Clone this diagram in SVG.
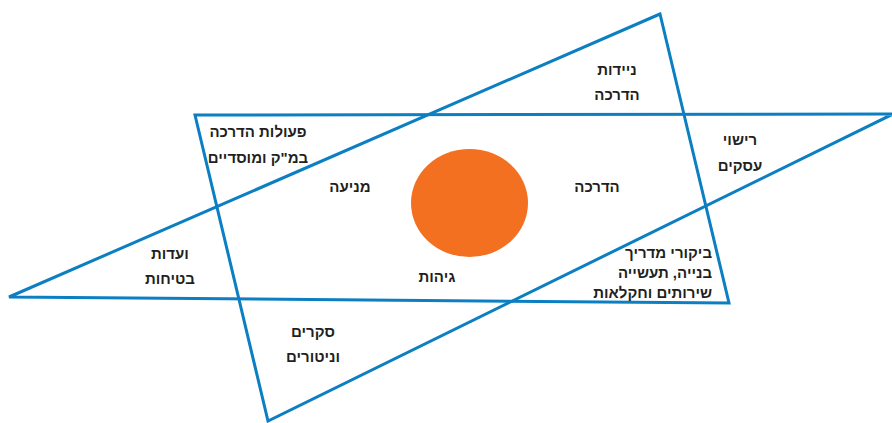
<svg xmlns="http://www.w3.org/2000/svg" width="892" height="423" viewBox="0 0 892 423">
<style>
.tri{fill:none;stroke:#0b7fc2;stroke-width:3;stroke-linejoin:miter}
.lbl{font-family:"Liberation Sans","DejaVu Sans",sans-serif;font-size:15px;font-weight:bold;fill:#231f20;text-anchor:middle}
.r{text-anchor:end}
</style>
<rect width="892" height="423" fill="#ffffff"/>
<g id="connectors">
<polygon id="triangle-up" class="tri" points="660,14 9,297 729,303"/>
<polygon id="triangle-down" class="tri" points="195,115 893,114 268,421"/>
</g>
<g id="center"><ellipse cx="469.5" cy="203" rx="58.5" ry="54" fill="#f37021"/></g>
<g id="n-peulot"><text class="lbl" x="258" y="137">פעולות הדרכה</text><text class="lbl" x="258" y="163">במ"ק ומוסדיים</text></g>
<g id="n-niyadut"><text class="lbl" x="617" y="75">ניידות</text><text class="lbl" x="617" y="100">הדרכה</text></g>
<g id="n-rishui"><text class="lbl" x="740" y="145">רישוי</text><text class="lbl" x="740" y="171">עסקים</text></g>
<g id="n-menia"><text class="lbl" x="350" y="192">מניעה</text></g>
<g id="n-hadracha"><text class="lbl" x="597" y="192">הדרכה</text></g>
<g id="n-vaadot"><text class="lbl" x="170" y="259">ועדות</text><text class="lbl" x="170" y="284">בטיחות</text></g>
<g id="n-gihut"><text class="lbl" x="437" y="282">גיהות</text></g>
<g id="n-bikurei"><text class="lbl r" x="712" y="258">ביקורי מדריך</text><text class="lbl r" x="712" y="278">בנייה, תעשייה</text><text class="lbl r" x="712" y="298">שירותים וחקלאות</text></g>
<g id="n-sekarim"><text class="lbl" x="313" y="337">סקרים</text><text class="lbl" x="313" y="362">וניטורים</text></g>
</svg>
